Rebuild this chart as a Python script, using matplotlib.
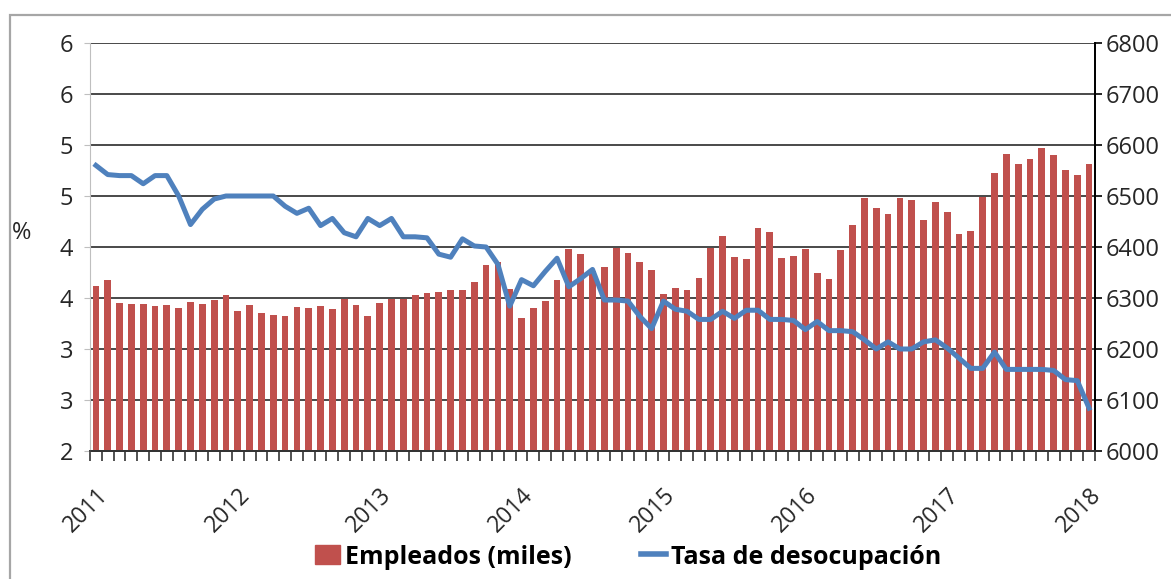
import numpy as np
import matplotlib
matplotlib.use("Agg")
import matplotlib.pyplot as plt
from matplotlib.ticker import FuncFormatter, FixedLocator
from matplotlib.patches import Rectangle

plt.rcParams['font.family'] = ['Open Sans', 'DejaVu Sans']

# monthly data, Jan 2011 .. Jan 2018
empleados = [6324, 6335, 6291, 6289, 6289, 6285, 6287, 6281, 6293, 6289, 6297, 6305,
             6274, 6287, 6270, 6267, 6265, 6283, 6280, 6285, 6279, 6298, 6286, 6265,
             6290, 6299, 6299, 6305, 6309, 6312, 6315, 6316, 6332, 6364, 6370, 6317,
             6260, 6281, 6295, 6335, 6396, 6387, 6352, 6361, 6399, 6388, 6370, 6355,
             6307, 6320, 6316, 6340, 6398, 6422, 6380, 6377, 6438, 6430, 6378, 6383,
             6396, 6349, 6337, 6394, 6444, 6496, 6477, 6464, 6496, 6493, 6452, 6488,
             6468, 6426, 6432, 6498, 6546, 6582, 6562, 6572, 6595, 6580, 6551, 6541,
             6562]

desocupacion = [4.80, 4.71, 4.70, 4.70, 4.62, 4.70, 4.70, 4.50, 4.22, 4.37, 4.47, 4.50,
                4.50, 4.50, 4.50, 4.50, 4.40, 4.33, 4.38, 4.21, 4.28, 4.14, 4.10, 4.28,
                4.21, 4.28, 4.10, 4.10, 4.09, 3.93, 3.90, 4.08, 4.01, 4.00, 3.83, 3.42,
                3.68, 3.62, 3.76, 3.89, 3.61, 3.69, 3.78, 3.48, 3.48, 3.47, 3.32, 3.20,
                3.47, 3.39, 3.37, 3.29, 3.29, 3.37, 3.30, 3.38, 3.38, 3.29, 3.29, 3.28,
                3.19, 3.27, 3.18, 3.18, 3.17, 3.09, 3.00, 3.07, 3.00, 3.00, 3.07, 3.09,
                3.01, 2.91, 2.81, 2.81, 2.97, 2.80, 2.80, 2.80, 2.80, 2.79, 2.70, 2.69,
                2.42]

years = ['2011', '2012', '2013', '2014', '2015', '2016', '2017', '2018']

red = '#C0504D'
blue = '#4F81BD'
txt = '#262626'

x = np.arange(len(empleados))

fig = plt.figure(figsize=(11.71, 5.79), dpi=100)
ax = fig.add_axes([90/1171, 1-451/579, (1095-90)/1171, (451-43)/579])
ax2 = ax.twinx()

# bars on right axis, line on left axis (drawn on top)
ax2.bar(x, empleados, width=0.57, color=red, zorder=2)
ax2.set_ylim(6000, 6800)
ax2.set_yticks(np.arange(6000, 6801, 100))
ax2.grid(axis='y', color='#3a3a3a', linewidth=1.3)
ax2.set_axisbelow(True)

ax.set_zorder(ax2.get_zorder() + 1)
ax.patch.set_visible(False)
ax.plot(x, desocupacion, color=blue, linewidth=3.6, solid_joinstyle='round', label='Tasa de desocupación')
ax.set_ylim(2, 6)
ax.set_yticks(np.arange(2, 6.01, 0.5))
ax.yaxis.set_major_formatter(FuncFormatter(lambda v, p: str(int(np.floor(v + 0.5)))))
ax.set_xlim(-0.5, len(x) - 0.5)

ax.set_xticks(np.arange(0, len(x), 12))
ax.set_xticklabels(years, rotation=45, ha='right', rotation_mode='anchor')
ax.xaxis.set_minor_locator(FixedLocator(np.arange(-0.5, len(x), 1)))
ax.tick_params(axis='x', which='major', length=0, pad=23, labelsize=16.5, labelcolor=txt)
ax.tick_params(axis='x', which='minor', length=7, width=1.2, color='#333333')
ax.tick_params(axis='y', length=4, color='#bfbfbf', labelsize=17, labelcolor=txt, pad=8)
ax2.tick_params(axis='y', length=5, width=1.2, color='black', labelsize=17, labelcolor=txt, pad=3)

for a in (ax, ax2):
    a.spines['top'].set_visible(False)
    a.spines['left'].set_color('#bfbfbf')
    a.spines['right'].set_color('black')
    a.spines['right'].set_linewidth(1.3)
    a.spines['bottom'].set_color('#333333')
    a.spines['bottom'].set_linewidth(1.3)
ax2.spines['left'].set_visible(False)

fig.text(22/1171, 1-233/579, '%', fontsize=17, color=txt, ha='center', va='center')

# legend
h1 = plt.Rectangle((0, 0), 1, 1, color=red)
h2 = plt.Line2D([0], [0], color=blue, linewidth=4)
fig.legend([h1, h2], ['Empleados (miles)', 'Tasa de desocupación'], loc='center',
           bbox_to_anchor=(628/1171, 1-557/579), ncol=2, frameon=False,
           prop={'weight': 'bold', 'size': 18}, handlelength=1.0, handleheight=0.8,
           handletextpad=0.2, columnspacing=2.8, labelcolor='black')

# outer chart frame
fig.add_artist(Rectangle((10/1171, -0.1), 1.2, 1.1 - 15/579, transform=fig.transFigure,
                         fill=False, edgecolor='#a6a6a6', linewidth=1.6))

fig.savefig('out.png', dpi=100)
